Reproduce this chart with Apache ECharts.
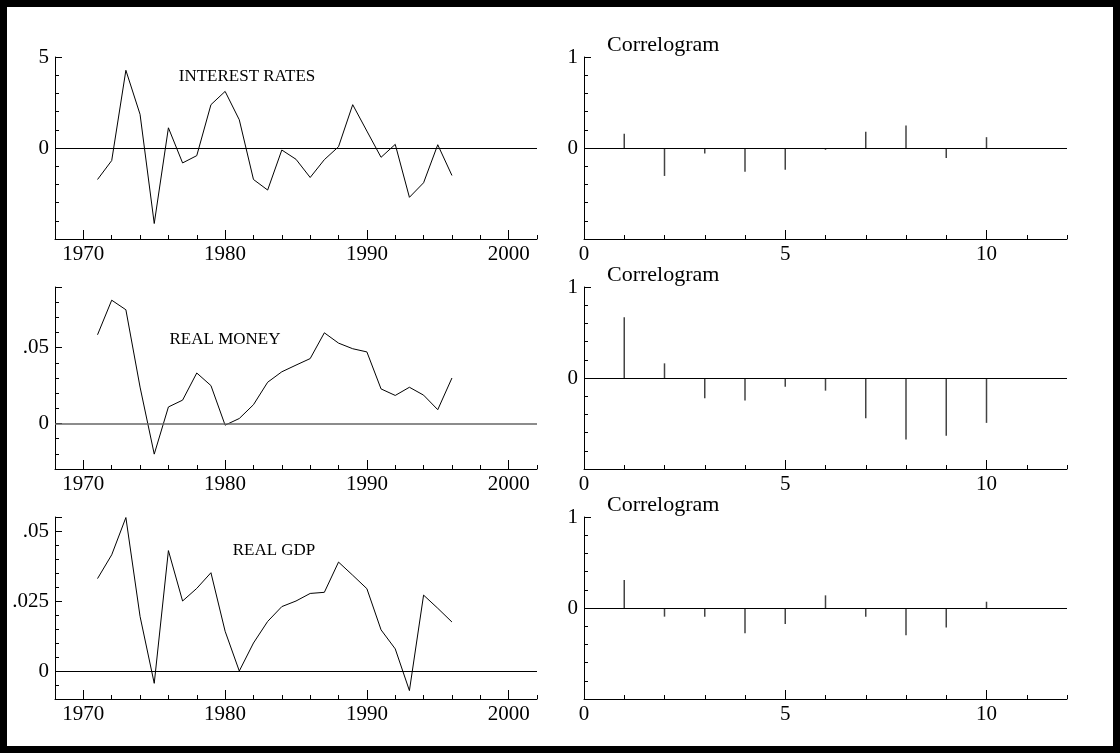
<!DOCTYPE html>
<html>
<head>
<meta charset="utf-8">
<script src="https://cdn.jsdelivr.net/npm/echarts@6/dist/echarts.min.js"></script>
<style>
html,body{margin:0;padding:0;background:#fff;}
#c{width:1120px;height:753px;}
</style>
</head>
<body>
<div id="c"></div>
<script>
// ---------------- data ----------------
const years = [1971,1972,1973,1974,1975,1976,1977,1978,1979,1980,1981,1982,1983,1984,1985,1986,1987,1988,1989,1990,1991,1992,1993,1994,1995,1996];
const interestRates = [-1.73,-0.69,4.27,1.85,-4.15,1.11,-0.82,-0.42,2.38,3.11,1.55,-1.73,-2.31,-0.11,-0.62,-1.62,-0.64,0.07,2.38,0.93,-0.51,0.20,-2.71,-1.91,0.18,-1.51];
const realMoney = [0.0585,0.0813,0.0750,0.0240,-0.0202,0.0109,0.0154,0.0333,0.0250,-0.0011,0.0033,0.0124,0.0272,0.0341,0.0385,0.0428,0.0598,0.0530,0.0493,0.0472,0.0228,0.0185,0.0239,0.0187,0.0091,0.0300];
const realGdp = [0.0330,0.0415,0.0548,0.0195,-0.0044,0.0430,0.0250,0.0295,0.0351,0.0142,0.0000,0.0100,0.0177,0.0230,0.0250,0.0277,0.0281,0.0389,0.0342,0.0294,0.0147,0.0079,-0.0070,0.0271,0.0224,0.0175];
const lags = [1,2,3,4,5,6,7,8,9,10];
const acfInterest = [0.156,-0.307,-0.06,-0.26,-0.24,-0.02,0.178,0.248,-0.11,0.119];
const acfMoney = [0.668,0.161,-0.223,-0.248,-0.095,-0.139,-0.442,-0.675,-0.635,-0.493];
const acfGdp = [0.307,-0.095,-0.095,-0.277,-0.175,0.139,-0.095,-0.30,-0.215,0.069];
const seriesNames = ['INTEREST RATES','REAL MONEY','REAL GDP'];
const correlogramTitle = 'Correlogram';
const yearTicks = [1970,1980,1990,2000];
const lagTicks = [0,5,10];
const leftYLabels = [[0,5],[0,0.05],[0,0.025,0.05]];
const rightYLabels = [0,1];

// ---------------- layout ----------------
const FONT = 'Liberation Serif';
const tops = [57,287,517];
const H = 182;
const leftX = 55, leftW = 482, rightX = 584, rightW = 483;
const leftYCfg = [
  {min:-5, max:5, interval:1},
  {min:-0.03, max:0.09, interval:0.01},
  {min:-0.01, max:0.055, interval:0.005}
];
const leftSeries = [interestRates, realMoney, realGdp];
const rightSeries = [acfInterest, acfMoney, acfGdp];
const labelY = [77, 340, 551];
const labelX = [247, 225, 274];
const zeroLineStyles = [
  {color:'#000', width:1, type:'solid'},
  {color:'#666', width:1.6, type:'solid'},
  {color:'#000', width:1, type:'solid'}
];

function fmtNum(v){
  if (v === 0) return '0';
  return String(v).replace(/^0\./,'.').replace(/^-0\./,'-.');
}
function pick(list){
  return function(v){
    for (const s of list){ if (Math.abs(v - s) < 1e-9) return fmtNum(s); }
    return '';
  };
}

const grid = [], xAxis = [], yAxis = [], series = [], graphic = [];
const tickStyle = {color:'#000', width:1};
const axisLineStyle = {color:'#000', width:1};

for (let i = 0; i < 3; i++){
  // left panel
  const gL = grid.length;
  grid.push({left:leftX, top:tops[i], width:leftW, height:H, containLabel:false});
  const xMinor = xAxis.length;
  xAxis.push({type:'value', gridIndex:gL, min:1968, max:2002, interval:2, position:'bottom',
    axisLine:{show:true, onZero:false, lineStyle:axisLineStyle},
    axisTick:{show:true, inside:true, length:4, lineStyle:tickStyle},
    axisLabel:{show:true, formatter:pick(yearTicks), color:'#000', fontFamily:FONT, fontSize:21, margin:5},
    splitLine:{show:false}});
  xAxis.push({type:'value', gridIndex:gL, min:1968, max:2002, interval:2, position:'bottom',
    axisLine:{show:false, onZero:false},
    axisTick:{show:true, inside:true, length:9, customValues:yearTicks, lineStyle:tickStyle},
    axisLabel:{show:false}, splitLine:{show:false}});
  const yc = leftYCfg[i];
  const yMinor = yAxis.length;
  yAxis.push({type:'value', gridIndex:gL, min:yc.min, max:yc.max, interval:yc.interval, position:'left',
    axisLine:{show:true, onZero:false, lineStyle:axisLineStyle},
    axisTick:{show:true, inside:true, length:4, lineStyle:tickStyle},
    axisLabel:{show:true, formatter:pick(leftYLabels[i]), color:'#000', fontFamily:FONT, fontSize:21, margin:6},
    splitLine:{show:false}});
  yAxis.push({type:'value', gridIndex:gL, min:yc.min, max:yc.max, interval:yc.interval, position:'left',
    axisLine:{show:false, onZero:false},
    axisTick:{show:true, inside:true, length:7, customValues:leftYLabels[i].concat([yc.max]), lineStyle:tickStyle},
    axisLabel:{show:false}, splitLine:{show:false}});
  series.push({type:'line', xAxisIndex:xMinor, yAxisIndex:yMinor,
    data: years.map((y,k)=>[y, leftSeries[i][k]]),
    showSymbol:false, symbol:'none', animation:false, z:3,
    lineStyle:{color:'#000', width:1},
    markLine:{silent:true, symbol:'none', animation:false, label:{show:false},
      lineStyle:zeroLineStyles[i], data:[{yAxis:0}]}});

  // right panel
  const gR = grid.length;
  grid.push({left:rightX, top:tops[i], width:rightW, height:H, containLabel:false});
  const rxMinor = xAxis.length;
  xAxis.push({type:'value', gridIndex:gR, min:0, max:12, interval:1, position:'bottom',
    axisLine:{show:true, onZero:false, lineStyle:axisLineStyle},
    axisTick:{show:true, inside:true, length:4, lineStyle:tickStyle},
    axisLabel:{show:true, formatter:pick(lagTicks), color:'#000', fontFamily:FONT, fontSize:21, margin:5},
    splitLine:{show:false}});
  xAxis.push({type:'value', gridIndex:gR, min:0, max:12, interval:1, position:'bottom',
    axisLine:{show:false, onZero:false},
    axisTick:{show:true, inside:true, length:9, customValues:lagTicks, lineStyle:tickStyle},
    axisLabel:{show:false}, splitLine:{show:false}});
  const ryMinor = yAxis.length;
  yAxis.push({type:'value', gridIndex:gR, min:-1, max:1, interval:0.2, position:'left',
    axisLine:{show:true, onZero:false, lineStyle:axisLineStyle},
    axisTick:{show:true, inside:true, length:4, lineStyle:tickStyle},
    axisLabel:{show:true, formatter:pick(rightYLabels), color:'#000', fontFamily:FONT, fontSize:21, margin:6},
    splitLine:{show:false}});
  yAxis.push({type:'value', gridIndex:gR, min:-1, max:1, interval:0.2, position:'left',
    axisLine:{show:false, onZero:false},
    axisTick:{show:true, inside:true, length:7, customValues:rightYLabels, lineStyle:tickStyle},
    axisLabel:{show:false}, splitLine:{show:false}});
  series.push({type:'custom', xAxisIndex:rxMinor, yAxisIndex:ryMinor, animation:false,
    data: lags.map((l,k)=>[l, rightSeries[i][k]]),
    encode:{x:0, y:1},
    renderItem:function(params, api){
      const p0 = api.coord([api.value(0), 0]);
      const p1 = api.coord([api.value(0), api.value(1)]);
      return {type:'line', shape:{x1:p0[0], y1:p0[1], x2:p1[0], y2:p1[1]},
        style:{stroke:'#444', lineWidth:1.5}};
    },
    markLine:{silent:true, symbol:'none', animation:false, label:{show:false},
      lineStyle:{color:'#000', width:1, type:'solid'}, data:[{yAxis:0}]}});

  graphic.push({type:'text', x:labelX[i], y:labelY[i], silent:true,
    style:{text:seriesNames[i], fill:'#000', font:'17px "Liberation Serif"', align:'center', verticalAlign:'middle'}});
  graphic.push({type:'text', x:607, y:tops[i]-12, silent:true,
    style:{text:correlogramTitle, fill:'#000', font:'22px "Liberation Serif"', align:'left', verticalAlign:'middle'}});
}

graphic.push({type:'rect', silent:true, z:100, shape:{x:0, y:0, width:1120, height:753},
  style:{fill:'none', stroke:'#000', lineWidth:14}});

const chart = echarts.init(document.getElementById('c'), null, {renderer:'canvas'});
chart.setOption({
  animation:false,
  backgroundColor:'#fff',
  grid, xAxis, yAxis, series, graphic
});
</script>
</body>
</html>
